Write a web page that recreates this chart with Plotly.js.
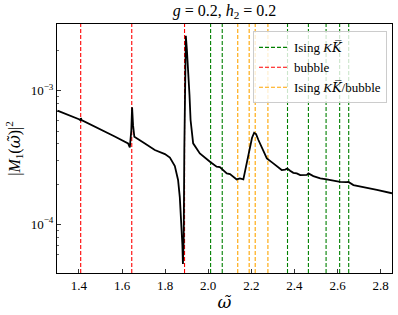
<!DOCTYPE html>
<html>
<head>
<meta charset="utf-8">
<script src="https://cdn.plot.ly/plotly-3.0.1.min.js"></script>
<style>html,body{margin:0;padding:0;background:#fff;}#chart{width:398px;height:315px;}</style>
</head>
<body>
<div id="chart"></div>
<script>
// omega-tilde values and |M1|^2 values
const omega = [1.300,1.357,1.400,1.407,1.409,1.412,1.496,1.566,1.628,1.636,1.643,1.6465,1.651,1.657,1.706,1.752,1.799,1.822,1.845,1.860,1.868,1.875,1.880,1.8825,1.886,1.889,1.893,1.896,1.901,1.907,1.913,1.918,1.930,1.961,1.985,2.008,2.039,2.054,2.086,2.101,2.132,2.147,2.163,2.179,2.194,2.203,2.213,2.222,2.233,2.256,2.272,2.302,2.341,2.357,2.367,2.380,2.395,2.411,2.427,2.458,2.465,2.488,2.520,2.550,2.581,2.612,2.640,2.651,2.674,2.721,2.783,2.853];
const M1sq = [7.11e-4,6.56e-4,6.12e-4,6.02e-4,6.25e-4,6.03e-4,5.19e-4,4.55e-4,4.04e-4,3.77e-4,5.08e-4,7.51e-4,5.53e-4,4.53e-4,4.03e-4,3.60e-4,3.36e-4,3.16e-4,2.73e-4,2.15e-4,1.60e-4,1.08e-4,7.0e-5,5.05e-5,7.6e-5,3.6e-4,1.70e-3,2.58e-3,2.02e-3,1.43e-3,9.29e-4,6.04e-4,4.04e-4,3.40e-4,3.13e-4,2.94e-4,2.70e-4,2.68e-4,2.41e-4,2.38e-4,2.17e-4,2.21e-4,2.17e-4,2.86e-4,3.81e-4,4.43e-4,4.85e-4,4.74e-4,4.28e-4,3.49e-4,3.12e-4,2.86e-4,2.55e-4,2.57e-4,2.62e-4,2.52e-4,2.43e-4,2.41e-4,2.34e-4,2.35e-4,2.41e-4,2.30e-4,2.21e-4,2.17e-4,2.12e-4,2.08e-4,2.07e-4,2.08e-4,1.97e-4,1.89e-4,1.81e-4,1.71e-4];

// vertical marker lines
const isingKK = [2.011,2.065,2.368,2.465,2.547,2.610,2.652];
const bubble = [1.408,1.645,1.890];
const isingKKbubble = [2.137,2.190,2.218,2.277];

const xTicks = [1.4,1.6,1.8,2.0,2.2,2.4,2.6,2.8];
const yTickVals = [1e-4,1e-3];
const yTickText = ['10<sup>\u22124</sup>','10<sup>\u22123</sup>'];
const yMinorVals = [6e-5,7e-5,8e-5,9e-5,2e-4,3e-4,4e-4,5e-4,6e-4,7e-4,8e-4,9e-4,2e-3];

const serif = 'Times New Roman, Liberation Serif, DejaVu Serif, serif';
const omegaTilde = '<span style="font-family:DejaVu Serif"><i>\u03c9\u0303</i></span>';
const kkbar = '<i>K</i><span style="font-family:DejaVu Serif"><i>K\u0305</i></span>';

const groups = [
  {vals: isingKK, color: 'green', name: 'Ising ' + kkbar},
  {vals: bubble, color: 'red', name: 'bubble'},
  {vals: isingKKbubble, color: 'orange', name: 'Ising ' + kkbar + '/bubble'}
];
const shapes = [];
groups.forEach((g, gi) => {
  g.vals.forEach((v, i) => {
    shapes.push({
      type: 'line', xref: 'x', yref: 'paper', x0: v, x1: v, y0: 0, y1: 1,
      line: {color: g.color, width: 1.1, dash: '4px,2px'},
      layer: 'below',
      showlegend: i === 0, name: g.name, legendgroup: 'g' + gi, legendrank: gi + 1
    });
  });
});

const traces = [{
  x: omega, y: M1sq, type: 'scatter', mode: 'lines',
  line: {color: 'black', width: 1.8}, showlegend: false, hoverinfo: 'skip'
}];

const layout = {
  width: 398, height: 315,
  margin: {l: 57, r: 6, t: 24, b: 42},
  paper_bgcolor: '#fff', plot_bgcolor: '#fff',
  font: {family: serif, color: '#000', size: 12},
  title: {text: '<i>g</i> = 0.2, <i>h</i><sub>2</sub> = 0.2', font: {family: serif, size: 16, color: '#000'},
          x: 0.564, xanchor: 'center', y: 0.985, yanchor: 'top'},
  xaxis: {
    range: [1.298, 2.853], tickvals: xTicks, ticktext: xTicks.map(v => v.toFixed(1)),
    ticks: 'inside', ticklen: 4, tickcolor: '#000', tickwidth: 0.8,
    showline: true, linecolor: '#000', linewidth: 1, mirror: true,
    showgrid: false, zeroline: false,
    tickfont: {family: serif, size: 13, color: '#000'},
    title: {text: omegaTilde, font: {family: serif, size: 17, color: '#000'}, standoff: 4}
  },
  yaxis: {
    type: 'log', range: [-4.364, -2.5],
    tickvals: yTickVals, ticktext: yTickText,
    ticks: 'inside', ticklen: 4, tickcolor: '#000', tickwidth: 0.8,
    minor: {tickvals: yMinorVals, ticks: 'inside', ticklen: 2, tickcolor: '#000', tickwidth: 0.6, showgrid: false},
    showline: true, linecolor: '#000', linewidth: 1, mirror: true,
    showgrid: false, zeroline: false,
    tickfont: {family: serif, size: 13, color: '#000'},
    title: {text: '|<i>M</i><sub>1</sub>(' + omegaTilde + ')|<sup>2</sup>', font: {family: serif, size: 16, color: '#000'}, standoff: 6}
  },
  shapes: shapes,
  legend: {
    x: 0.985, xanchor: 'right', y: 0.97, yanchor: 'top',
    bgcolor: 'rgba(255,255,255,0.8)', bordercolor: '#cccccc', borderwidth: 1,
    font: {family: serif, size: 13, color: '#000'},
    tracegroupgap: 0, itemwidth: 30
  }
};

Plotly.newPlot('chart', traces, layout, {staticPlot: true, displayModeBar: false});
</script>
</body>
</html>
